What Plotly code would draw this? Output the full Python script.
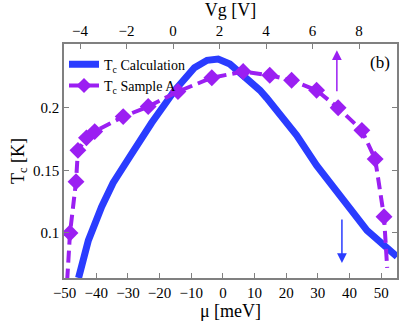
import plotly.graph_objects as go

# Tc calculation (blue solid)
mu_calc = [-45.6, -42.5, -38.3, -34.7, -29.4, -22.5, -15.2, -9.0, -5.0, -1.5, 2.2, 6.0,
           11.7, 13.8, 18.5, 23.3, 29.6, 36.4, 40.0, 45.5, 55.0]
tc_calc = [0.064, 0.094, 0.121, 0.140, 0.161, 0.188, 0.214, 0.232, 0.238, 0.239, 0.235, 0.227,
           0.214, 0.208, 0.193, 0.178, 0.154, 0.133, 0.120, 0.102, 0.081]

# Tc sample A (purple dashed, diamonds); first and last points are line ends only
mu_a = [-49.2, -48.3, -46.4, -45.8, -43.1, -40.5, -31.5, -23.6, -14.2, -3.5, 6.4, 14.8,
        21.7, 29.6, 36.4, 43.9, 48.1, 50.9, 51.9]
tc_a = [0.062, 0.100, 0.141, 0.166, 0.176, 0.181, 0.193, 0.201, 0.213, 0.224, 0.229, 0.226,
        0.222, 0.214, 0.200, 0.182, 0.159, 0.113, 0.072]

mu_ticks = [-50, -40, -30, -20, -10, 0, 10, 20, 30, 40, 50]
vg_ticks = [-4, -2, 0, 2, 4, 6, 8]
tc_ticks = [0.1, 0.15, 0.2]

blue = "#2a3cff"
purple = "#9b1ff2"
grey = "#808080"
font = "Liberation Serif, Times New Roman, serif"

fig = go.Figure()

fig.add_trace(go.Scatter(x=mu_calc, y=tc_calc, mode="lines", name="T<sub>c</sub> Calculation",
                         line=dict(color=blue, width=7)))

sizes = [0] + [13] * (len(mu_a) - 2) + [0]
fig.add_trace(go.Scatter(x=mu_a, y=tc_a, mode="lines+markers", name="T<sub>c</sub> Sample A",
                         line=dict(color=purple, width=4, dash="12px,6px"),
                         marker=dict(symbol="diamond", size=sizes, color=purple, opacity=1,
                                     line=dict(width=0))))

# carries the top Vg axis
fig.add_trace(go.Scatter(x=vg_ticks, y=[None] * len(vg_ticks), xaxis="x2",
                         showlegend=False, hoverinfo="skip"))

# arrows
fig.add_annotation(x=36, y=0.246, ax=36, ay=0.212, xref="x", yref="y", axref="x", ayref="y",
                   showarrow=True, arrowhead=2, arrowsize=1.3, arrowwidth=1.5,
                   arrowcolor=purple, text="")
fig.add_annotation(x=37.6, y=0.076, ax=37.6, ay=0.112, xref="x", yref="y", axref="x", ayref="y",
                   showarrow=True, arrowhead=2, arrowsize=1.3, arrowwidth=1.5,
                   arrowcolor=blue, text="")
fig.add_annotation(x=49.6, y=0.236, xref="x", yref="y", text="(b)", showarrow=False,
                   font=dict(family=font, size=17, color="black"))

axis_common = dict(showline=True, linecolor=grey, linewidth=1.5, ticks="inside", ticklen=5,
                   tickcolor=grey, showgrid=False, zeroline=False, automargin=False,
                   tickfont=dict(family=font, size=15, color="black"))

fig.update_layout(
    width=415, height=328,
    margin=dict(l=64, r=18, t=44, b=50),
    plot_bgcolor="white", paper_bgcolor="white",
    font=dict(family=font, color="black"),
    xaxis=dict(range=[-50.2, 55.0], tickvals=mu_ticks, mirror=False,
               title=dict(text="μ [meV]", font=dict(family=font, size=18), standoff=4),
               **axis_common),
    xaxis2=dict(range=[-4.69, 9.63], tickvals=vg_ticks, overlaying="x", side="top",
                title=dict(text="Vg [V]", font=dict(family=font, size=18), standoff=4),
                **axis_common),
    yaxis=dict(range=[0.064, 0.251], tickvals=tc_ticks, ticktext=["0.1", "0.15", "0.2"],
               mirror="ticks",
               title=dict(text="T<sub>c</sub> [K]", font=dict(family=font, size=18), standoff=4),
               **axis_common),
    legend=dict(x=0.0, y=0.98, xanchor="left", yanchor="top", bgcolor="rgba(0,0,0,0)",
                font=dict(family=font, size=14), tracegroupgap=0, itemwidth=30),
    showlegend=True,
)

fig.write_html("out.html", config={"displayModeBar": False},
               post_script="document.body.style.margin='0';")
